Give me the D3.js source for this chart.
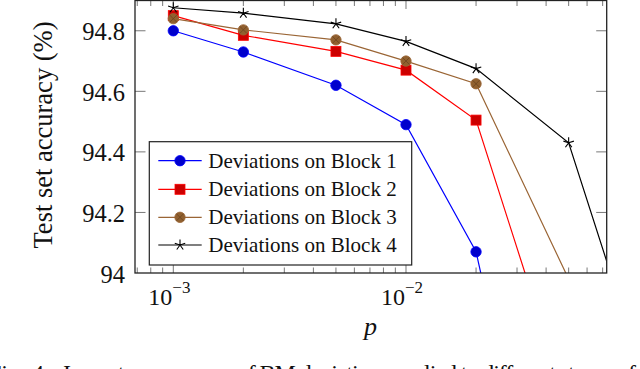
<!DOCTYPE html>
<html>
<head>
<meta charset="utf-8">
<script src="https://cdn.jsdelivr.net/npm/d3@7"></script>
<style>
  text, tspan { font-family: "Liberation Serif", "Times New Roman", serif !important; }
</style>
</head>
<body style="margin:0;background:#fff">
<script>
// values
const pValues = [0.001, 0.002, 0.005, 0.01, 0.02, 0.05, 0.1];
const block1 = [94.80, 94.73, 94.62, 94.49, 94.07, 92.70, null];
const block2 = [94.85, 94.785, 94.732, 94.67, 94.505, 93.55, null];
const block3 = [94.84, 94.803, 94.77, 94.70, 94.625, 93.98, null];
const block4 = [94.876, 94.858, 94.823, 94.765, 94.675, 94.43, 93.71];
const seriesNames = ['Deviations on Block 1', 'Deviations on Block 2', 'Deviations on Block 3', 'Deviations on Block 4'];
const yTicks = [94, 94.2, 94.4, 94.6, 94.8];
const yTickLabels = ['94', '94.2', '94.4', '94.6', '94.8'];
const xTicks = [0.001, 0.01];
const xTickExp = ['\u22123', '\u22122'];

const width = 640, height = 369;
const plot = { left: 135, right: 606.7, top: 0.5, bottom: 273 };
const serif = '"Liberation Serif", "Times New Roman", serif';

const x = d3.scaleLog()
  .domain([Math.pow(10, -3.1646), Math.pow(10, -1.1375)])
  .range([plot.left, plot.right]);
const y = d3.scaleLinear()
  .domain([94, 94.9])
  .range([plot.bottom, plot.top]);

const svg = d3.select('body').append('svg')
  .attr('width', width)
  .attr('height', height)
  .style('display', 'block');

svg.append('defs').append('clipPath').attr('id', 'clip')
  .append('rect')
  .attr('x', plot.left).attr('y', plot.top)
  .attr('width', plot.right - plot.left).attr('height', plot.bottom - plot.top);

// every label gets the serif face, forced
function label(sel) {
  return sel.style('font-family', serif, 'important').attr('fill', '#111');
}

// ticks (inside, mirrored on all sides)
const ticksG = svg.append('g').attr('stroke', '#555').attr('stroke-width', 0.8);
const minor = [];
[-4, -3, -2].forEach((e) => {
  for (let k = 2; k <= 9; k++) {
    const v = k * Math.pow(10, e);
    if (v > x.domain()[0] && v < x.domain()[1]) minor.push(v);
  }
});
minor.forEach((v) => {
  ticksG.append('line').attr('x1', x(v)).attr('x2', x(v)).attr('y1', plot.bottom).attr('y2', plot.bottom - 5.5);
  ticksG.append('line').attr('x1', x(v)).attr('x2', x(v)).attr('y1', plot.top).attr('y2', plot.top + 5.5);
});
xTicks.forEach((v) => {
  ticksG.append('line').attr('x1', x(v)).attr('x2', x(v)).attr('y1', plot.bottom).attr('y2', plot.bottom - 8.5);
  ticksG.append('line').attr('x1', x(v)).attr('x2', x(v)).attr('y1', plot.top).attr('y2', plot.top + 8.5);
});
yTicks.slice(1).forEach((v) => {
  ticksG.append('line').attr('x1', plot.left).attr('x2', plot.left + 10.5).attr('y1', y(v)).attr('y2', y(v));
  ticksG.append('line').attr('x1', plot.right).attr('x2', plot.right - 10.5).attr('y1', y(v)).attr('y2', y(v));
});

// tick labels
label(svg.append('g').selectAll('text')
  .data(yTicks)
  .join('text')
  .attr('x', 125)
  .attr('y', (d) => y(d) + 9.5)
  .attr('text-anchor', 'end')
  .attr('font-size', 24.5))
  .text((d, i) => yTickLabels[i]);

const xl = label(svg.append('g').selectAll('text')
  .data(xTicks)
  .join('text')
  .attr('x', (d) => x(d) - 25)
  .attr('y', 305)
  .attr('font-size', 24));
xl.append('tspan').text('10');
xl.append('tspan').attr('dy', -12).attr('font-size', 17).text((d, i) => xTickExp[i]);

// series
const series = [
  { name: seriesNames[0], values: block1, stroke: '#0000ff', fill: '#0000cc', mark: 'circle' },
  { name: seriesNames[1], values: block2, stroke: '#ff0000', fill: '#cc0000', mark: 'square' },
  { name: seriesNames[2], values: block3, stroke: '#9a6535', fill: '#90602f', mark: 'otimes' },
  { name: seriesNames[3], values: block4, stroke: '#000000', fill: '#000000', mark: 'star' }
];

function drawMark(g, s, cx, cy) {
  if (s.mark === 'circle') {
    g.append('circle').attr('cx', cx).attr('cy', cy).attr('r', 5.2)
      .attr('fill', s.fill).attr('stroke', s.stroke).attr('stroke-width', 0.8);
  } else if (s.mark === 'square') {
    g.append('rect').attr('x', cx - 5).attr('y', cy - 5).attr('width', 10).attr('height', 10)
      .attr('fill', s.fill).attr('stroke', s.stroke).attr('stroke-width', 0.8);
  } else if (s.mark === 'otimes') {
    g.append('circle').attr('cx', cx).attr('cy', cy).attr('r', 5.2)
      .attr('fill', s.fill).attr('stroke', s.stroke).attr('stroke-width', 0.8);
    const d = 3.6;
    g.append('path')
      .attr('d', `M${cx - d},${cy - d}L${cx + d},${cy + d}M${cx - d},${cy + d}L${cx + d},${cy - d}`)
      .attr('stroke', '#6b4420').attr('stroke-width', 0.8);
  } else {
    const r = 5.5;
    let p = '';
    for (let k = 0; k < 5; k++) {
      const a = -Math.PI / 2 + k * 2 * Math.PI / 5;
      p += `M${cx},${cy}L${cx + r * Math.cos(a)},${cy + r * Math.sin(a)}`;
    }
    g.append('path').attr('d', p).attr('stroke', s.stroke).attr('stroke-width', 1.1).attr('fill', 'none');
  }
}

const line = d3.line()
  .defined((d) => d[1] != null)
  .x((d) => x(d[0]))
  .y((d) => y(d[1]));

const plotG = svg.append('g').attr('clip-path', 'url(#clip)');
series.forEach((s) => {
  const pts = pValues.map((p, i) => [p, s.values[i]]);
  const g = plotG.append('g');
  g.append('path')
    .attr('d', line(pts))
    .attr('fill', 'none')
    .attr('stroke', s.stroke)
    .attr('stroke-width', 1.2);
  pts.filter((d) => d[1] != null).forEach((d) => drawMark(g, s, x(d[0]), y(d[1])));
});

// frame
svg.append('rect')
  .attr('x', plot.left).attr('y', plot.top)
  .attr('width', plot.right - plot.left).attr('height', plot.bottom - plot.top)
  .attr('fill', 'none').attr('stroke', '#222').attr('stroke-width', 1.3);

// legend
const legend = svg.append('g');
legend.append('rect')
  .attr('x', 149.3).attr('y', 141.7).attr('width', 262.4).attr('height', 123.3)
  .attr('fill', '#fff').attr('stroke', '#222').attr('stroke-width', 1.2);
const rowY = [160.7, 189.3, 217.3, 245];
series.forEach((s, i) => {
  const g = legend.append('g');
  g.append('line').attr('x1', 158.3).attr('x2', 201.7).attr('y1', rowY[i]).attr('y2', rowY[i])
    .attr('stroke', s.stroke).attr('stroke-width', 1.2);
  drawMark(g, s, 180, rowY[i]);
  label(g.append('text').attr('x', 208.3).attr('y', rowY[i] + 7).attr('font-size', 21))
    .text(s.name);
});

// axis labels
label(svg.append('text')
  .attr('transform', 'translate(51.7,135) rotate(-90)')
  .attr('text-anchor', 'middle')
  .attr('font-size', 26.5))
  .text('Test set accuracy (%)');

label(svg.append('text')
  .attr('x', 370.5).attr('y', 335)
  .attr('text-anchor', 'middle')
  .attr('font-size', 26)
  .attr('font-style', 'italic'))
  .text('p');

// caption, mostly below the visible area as in the picture
label(svg.append('text')
  .attr('x', 50).attr('y', 381)
  .attr('text-anchor', 'end')
  .attr('font-size', 24))
  .text('Fig. 4.');
label(svg.append('text')
  .attr('x', 63).attr('y', 381)
  .attr('font-size', 24)
  .attr('textLength', 573).attr('lengthAdjust', 'spacing'))
  .text('Impact on accuracy of BM deviations applied to different stages of');
</script>
</body>
</html>
